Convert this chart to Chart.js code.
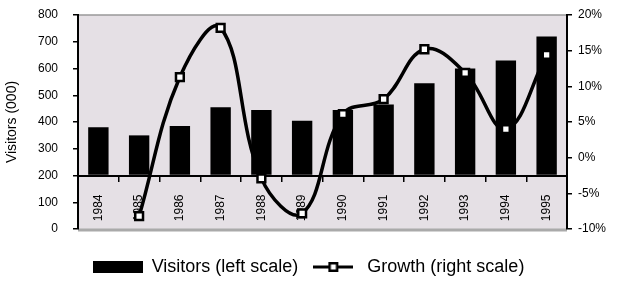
<!DOCTYPE html>
<html>
<head>
<meta charset="utf-8">
<script src="https://cdn.jsdelivr.net/npm/chart.js@4.4.0/dist/chart.umd.min.js"></script>
<style>
  html, body { margin: 0; padding: 0; background: #fff; }
  #wrap { width: 617px; height: 293px; }
</style>
</head>
<body>
<div id="wrap"><canvas id="chartVisitors"></canvas></div>
<script>
// ===================== DATA =====================
const years = ["1984", "1985", "1986", "1987", "1988", "1989", "1990", "1991", "1992", "1993", "1994", "1995"];
const visitors = [380, 350, 385, 455, 445, 405, 445, 465, 545, 600, 630, 720];
const growth = [null, -8.2, 11.3, 18.2, -2.9, -7.8, 6.1, 8.2, 15.2, 11.9, 4.0, 14.4];
const visitorsAxis = { min: 0, max: 800, step: 100, crossAt: 200 };
const growthAxis = { min: -10, max: 20, step: 5 };

const FONT = "'Liberation Sans', Arial, sans-serif";

// ===================== LEGEND SWATCHES =====================
const barSwatch = document.createElement("canvas");
barSwatch.width = 50;
barSwatch.height = 12;
barSwatch.getContext("2d").fillRect(0, 0, 50, 12);

const lineSwatch = document.createElement("canvas");
lineSwatch.width = 40;
lineSwatch.height = 12;
(() => {
  const c = lineSwatch.getContext("2d");
  c.fillStyle = "#000";
  c.fillRect(0, 4.5, 40, 3);
  c.fillRect(15, 1, 10, 10);
  c.fillStyle = "#fff";
  c.fillRect(17.5, 3.5, 5, 5);
})();

// ===================== PLUGINS =====================
const plotFrame = {
  id: "plotFrame",
  beforeDraw(chart) {
    const { ctx, chartArea: { left, top, right, bottom } } = chart;
    ctx.save();
    ctx.fillStyle = "#e5e0e5";
    ctx.fillRect(left, top, right - left, bottom - top);
    ctx.strokeStyle = "#999";
    ctx.lineWidth = 1.5;
    ctx.beginPath();
    ctx.moveTo(left, top);
    ctx.lineTo(right, top);
    ctx.stroke();
    ctx.strokeStyle = "#aaa";
    ctx.lineWidth = 3;
    ctx.beginPath();
    ctx.moveTo(left, bottom + 1);
    ctx.lineTo(right, bottom + 1);
    ctx.stroke();
    ctx.restore();
  }
};

const legendGap = {
  id: "legendGap",
  beforeInit(chart) {
    const fit = chart.legend.fit;
    chart.legend.fit = function () {
      fit.call(this);
      this.height = 64;
    };
  },
  afterLayout(chart) {
    chart.legend.top += 19;
  }
};

// keep the tick label padding from pushing the plot area down
const fixSide = (width) => (scale) => {
  scale.width = width;
  scale.paddingTop = 8;
  scale.paddingBottom = 8;
};

// ===================== CHART =====================
new Chart(document.getElementById("chartVisitors"), {
  data: {
    labels: years,
    datasets: [
      {
        type: "bar",
        label: "Visitors (left scale)",
        data: visitors,
        yAxisID: "y",
        base: visitorsAxis.crossAt,
        backgroundColor: "#000",
        categoryPercentage: 1,
        barPercentage: 0.5,
        order: 2
      },
      {
        type: "line",
        label: "Growth (right scale)",
        data: growth,
        yAxisID: "y1",
        borderColor: "#000",
        borderWidth: 3.5,
        tension: 0.4,
        pointStyle: "rect",
        pointRadius: 5.5,
        pointBorderWidth: 2.5,
        pointBackgroundColor: "#fff",
        pointBorderColor: "#000",
        order: 1
      }
    ]
  },
  options: {
    responsive: true,
    maintainAspectRatio: false,
    animation: false,
    layout: { padding: { top: 15, left: 0, right: 0, bottom: 0 } },
    plugins: {
      tooltip: { enabled: false },
      legend: {
        position: "bottom",
        labels: {
          usePointStyle: true,
          pointStyleWidth: 50,
          padding: 10,
          color: "#000",
          font: { family: FONT, size: 18 },
          generateLabels: () => [
            { text: "Visitors (left scale)", pointStyle: barSwatch, fillStyle: "#000", strokeStyle: "#000", lineWidth: 0, hidden: false, datasetIndex: 0 },
            { text: "Growth (right scale)", pointStyle: lineSwatch, fillStyle: "#fff", strokeStyle: "#000", lineWidth: 0, hidden: false, datasetIndex: 1 }
          ]
        }
      }
    },
    scales: {
      x: {
        type: "category",
        position: { y: visitorsAxis.crossAt },
        offset: true,
        grid: { offset: true, drawOnChartArea: false, drawTicks: true, tickLength: 5, color: "#000", lineWidth: 1.5 },
        border: { display: true, color: "#000", width: 2 },
        ticks: {
          minRotation: 90,
          maxRotation: 90,
          padding: 14,
          color: "#000",
          font: { family: FONT, size: 12 }
        }
      },
      y: {
        position: "left",
        min: visitorsAxis.min,
        max: visitorsAxis.max,
        afterFit: fixSide(78),
        grid: { drawOnChartArea: false, drawTicks: true, tickLength: 5, color: "#000", lineWidth: 1.5 },
        border: { display: true, color: "#000", width: 2 },
        ticks: {
          stepSize: visitorsAxis.step,
          padding: 15,
          color: "#000",
          font: { family: FONT, size: 12 }
        },
        title: {
          display: true,
          text: "Visitors (000)",
          color: "#000",
          font: { family: FONT, size: 14 },
          padding: { top: 4, bottom: 0 }
        }
      },
      y1: {
        position: "right",
        min: growthAxis.min,
        max: growthAxis.max,
        afterFit: fixSide(50),
        grid: { drawOnChartArea: false, drawTicks: true, tickLength: 5, color: "#000", lineWidth: 1.5 },
        border: { display: true, color: "#000", width: 2 },
        ticks: {
          stepSize: growthAxis.step,
          padding: 6,
          color: "#000",
          font: { family: FONT, size: 12 },
          callback: (v) => v + "%"
        }
      }
    }
  },
  plugins: [plotFrame, legendGap]
});
</script>
</body>
</html>
